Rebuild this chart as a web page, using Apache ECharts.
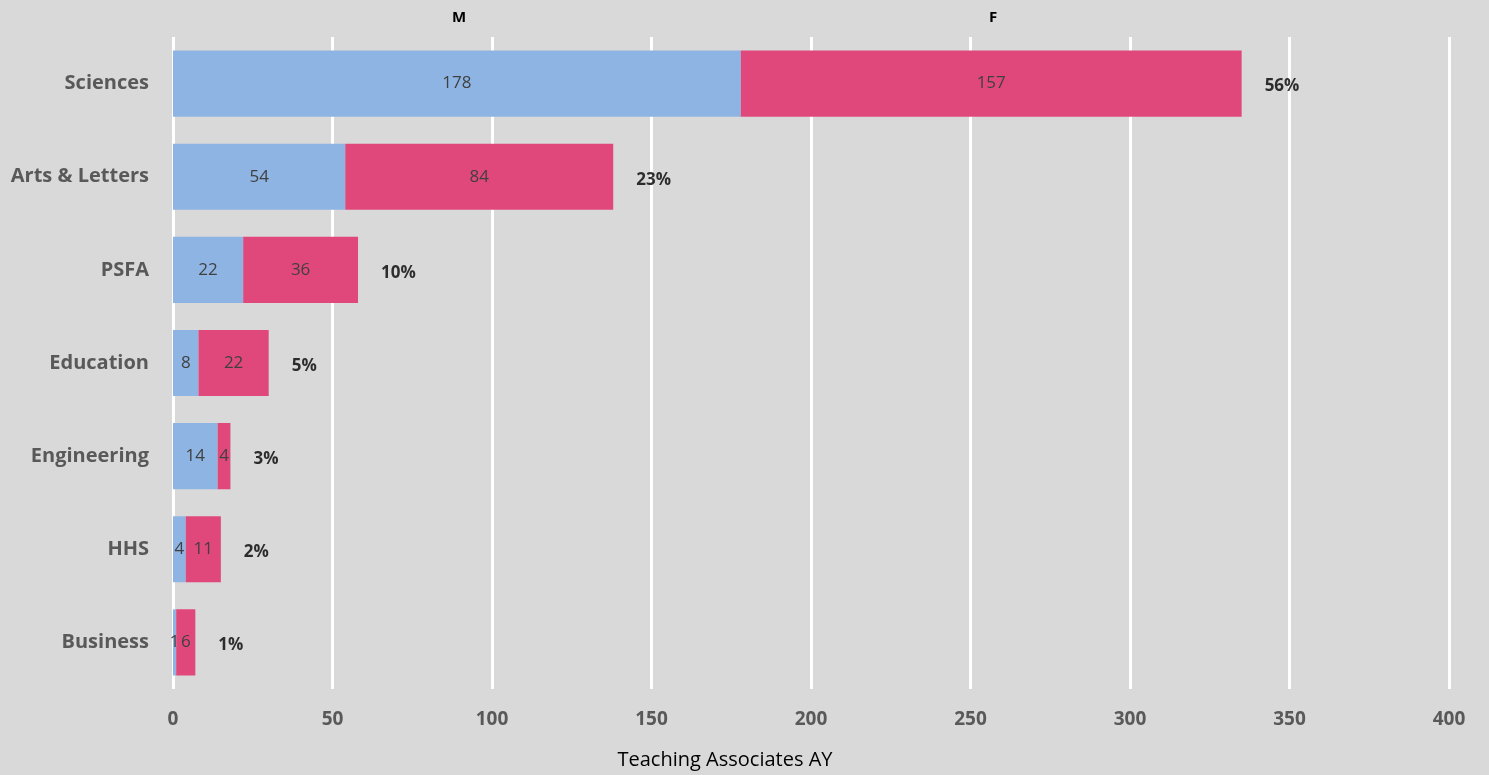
<!DOCTYPE html>
<html>
<head>
<meta charset="utf-8">
<script src="https://cdn.jsdelivr.net/npm/echarts@6/dist/echarts.min.js"></script>
<style>
  html, body { margin: 0; padding: 0; background: #d9d9d9; }
  #chart { width: 1489px; height: 775px; }
</style>
</head>
<body>
<div id="chart"></div>
<script>
// Teaching associates by college, split by gender
const colleges = ['Sciences', 'Arts & Letters', 'PSFA', 'Education', 'Engineering', 'HHS', 'Business'];
const maleCounts = [178, 54, 22, 8, 14, 4, 1];
const femaleCounts = [157, 84, 36, 22, 4, 11, 6];
const axisTicks = [0, 50, 100, 150, 200, 250, 300, 350, 400];

const totals = colleges.map((_, i) => maleCounts[i] + femaleCounts[i]);
const grandTotal = totals.reduce((a, b) => a + b, 0);

const FONT = '"Open Sans", sans-serif';
const chart = echarts.init(document.getElementById('chart'));

chart.setOption({
  backgroundColor: '#d9d9d9',
  animation: false,
  textStyle: { fontFamily: FONT },
  legend: [
    { data: ['M'], left: 442, top: 5, itemWidth: 0, itemHeight: 0, selectedMode: false,
      textStyle: { fontFamily: FONT, fontWeight: 'bold', fontSize: 15, color: '#000' } },
    { data: ['F'], left: 979, top: 5, itemWidth: 0, itemHeight: 0, selectedMode: false,
      textStyle: { fontFamily: FONT, fontWeight: 'bold', fontSize: 15, color: '#000' } }
  ],
  grid: { left: 173, right: 40, top: 37, bottom: 83, containLabel: false },
  xAxis: {
    type: 'value',
    min: axisTicks[0],
    max: axisTicks[axisTicks.length - 1],
    interval: axisTicks[1] - axisTicks[0],
    name: 'Teaching Associates AY',
    nameLocation: 'middle',
    nameGap: 61,
    nameTextStyle: { fontFamily: FONT, fontSize: 20, color: '#000', padding: [0, 172, 0, 0] },
    axisLine: { show: false },
    axisTick: { show: false },
    axisLabel: { fontFamily: FONT, fontWeight: 'bold', fontSize: 19, color: '#595959', margin: 21 },
    splitLine: { show: true, lineStyle: { color: '#ffffff', width: 3 } }
  },
  yAxis: {
    type: 'category',
    data: colleges,
    inverse: true,
    axisLine: { show: false },
    axisTick: { show: false },
    axisLabel: { fontFamily: FONT, fontWeight: 'bold', fontSize: 20, color: '#595959', margin: 24 }
  },
  series: [
    {
      name: 'M', type: 'bar', stack: 'total', data: maleCounts, barWidth: '71%',
      itemStyle: { color: '#8eb4e3' },
      label: { show: true, position: 'inside', fontFamily: FONT, fontSize: 17, color: '#404040' }
    },
    {
      name: 'F', type: 'bar', stack: 'total', data: femaleCounts, barWidth: '71%',
      itemStyle: { color: '#e0487c' },
      label: { show: true, position: 'inside', fontFamily: FONT, fontSize: 17, color: '#404040' }
    },
    {
      name: 'share', type: 'scatter', symbolSize: 0, data: totals, silent: true,
      label: {
        show: true, position: 'right', distance: 23, offset: [0, 3],
        fontFamily: FONT, fontWeight: 'bold', fontSize: 17, color: '#000',
        formatter: p => Math.round(p.value / grandTotal * 100) + '%'
      }
    }
  ]
});
</script>
</body>
</html>
